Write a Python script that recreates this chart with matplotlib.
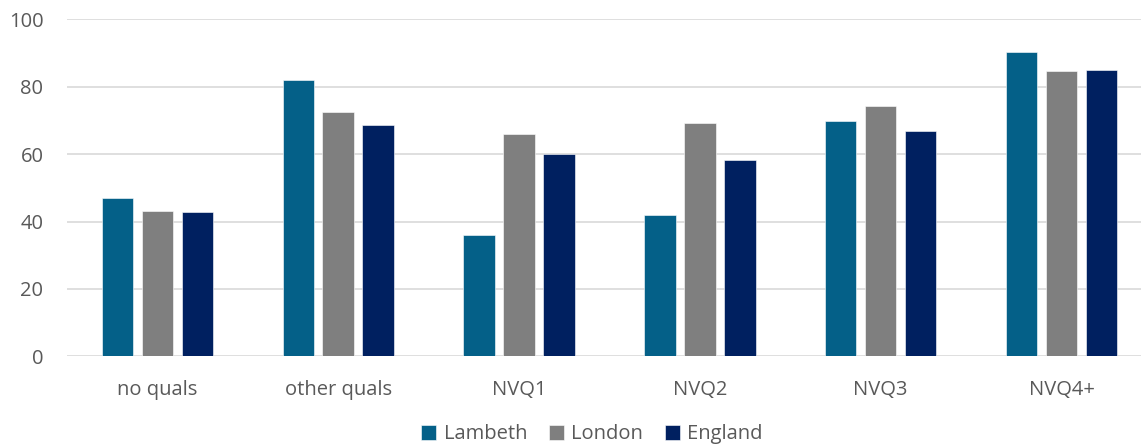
import numpy as np
import matplotlib
matplotlib.use("Agg")
import matplotlib.pyplot as plt

# qualification levels and % values per area
categories = ["no quals", "other quals", "NVQ1", "NVQ2", "NVQ3", "NVQ4+"]
lambeth = [47.0, 81.9, 35.9, 41.8, 69.9, 90.2]
london = [43.2, 72.4, 66.0, 69.3, 74.2, 84.7]
england = [42.9, 68.7, 59.9, 58.3, 67.0, 84.9]
series_names = ["Lambeth", "London", "England"]
colors = ["#046088", "#7f7f7f", "#002060"]

plt.rcParams["font.family"] = ["Open Sans", "DejaVu Sans"]

fig = plt.figure(figsize=(11.41, 4.47), dpi=100)
ax = fig.add_axes([67 / 1141, 1 - 356.3 / 447, 1 - 67 / 1141, (356.3 - 19.3) / 447])

x = np.arange(len(categories))
w = 0.174
off = 0.221
for i, (vals, name, c) in enumerate(zip([lambeth, london, england], series_names, colors)):
    ax.bar(x + (i - 1) * off, vals, w, color=c, label=name, zorder=3,
           edgecolor="white", linewidth=0.4)

ax.set_ylim(0, 100)
ax.set_xlim(-0.5, 5.44)
ax.set_yticks(range(0, 101, 20))
ax.set_xticks(x)
ax.set_xticklabels(categories)
ax.yaxis.grid(True, color="#d9d9d9", linewidth=1.2, zorder=0)
ax.set_axisbelow(True)
for s in ax.spines.values():
    s.set_visible(False)
ax.tick_params(axis="both", length=0, labelsize=14.5, labelcolor="#595959")
ax.tick_params(axis="y", pad=17)
ax.tick_params(axis="x", pad=17)

fig.legend(loc="center", bbox_to_anchor=(0.519, 0.028), ncol=3, frameon=False,
           fontsize=14.5, labelcolor="#595959", handlelength=0.75, handleheight=0.75,
           handletextpad=0.35, columnspacing=1.1)

fig.savefig("out.png", dpi=100)
